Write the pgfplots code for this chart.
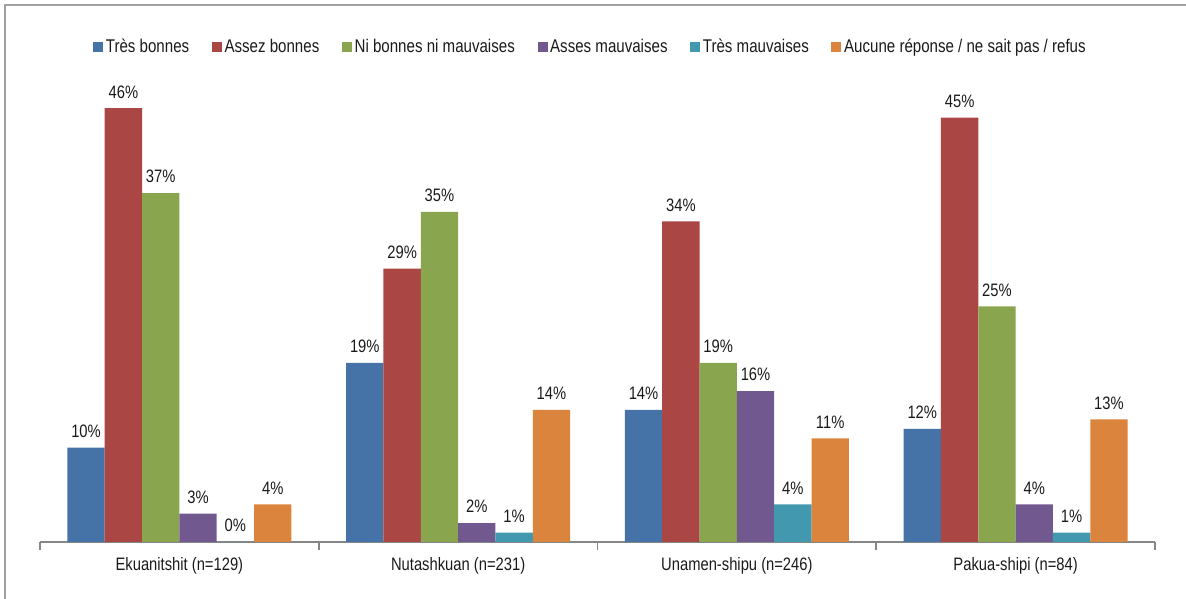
\documentclass[border=0pt]{standalone}
\usepackage{fontspec}
\setmainfont{Liberation Sans}[FakeStretch=0.82]
\usepackage{pgfplots}
\pgfplotsset{compat=1.18}
\definecolor{cA}{HTML}{4572A7}
\definecolor{cB}{HTML}{AA4643}
\definecolor{cC}{HTML}{89A54E}
\definecolor{cD}{HTML}{71588F}
\definecolor{cE}{HTML}{4198AF}
\definecolor{cF}{HTML}{DB843D}
\definecolor{frame}{HTML}{A0A0A0}
\definecolor{axisgray}{HTML}{868686}
\definecolor{ink}{HTML}{1A1A1A}

\begin{document}
\begin{tikzpicture}[font=\fontsize{13.5}{16}\selectfont]
% 1 px of the reference = 0.75pt
\path[use as bounding box] (0pt,0pt) rectangle (889.5pt,449.25pt);
\draw[frame, line width=1.3pt] (3.75pt,0pt) -- (3.75pt,445.5pt) -- (889.5pt,445.5pt);
\begin{axis}[
  at={(30pt,42.75pt)}, anchor=south west,
  scale only axis,
  width=836.25pt, height=353.6pt,
  ybar=0pt, bar width=28pt,
  xmin=-0.5, xmax=3.5,
  ymin=0, ymax=50,
  axis x line*=bottom,
  axis y line=none,
  axis line style={axisgray, line width=1.2pt},
  xtick={0,1,2,3},
  xticklabels={Ekuanitshit (n=129), Nutashkuan (n=231), Unamen-shipu (n=246), Pakua-shipi (n=84)},
  major tick length=0pt,
  minor xtick={-0.5,0.5,1.5,2.5,3.5},
  minor tick length=6pt,
  tick align=outside,
  minor tick style={axisgray, line width=1.2pt},
  xticklabel style={text=ink, yshift=-8pt},
  nodes near coords={\pgfmathprintnumber[assume math mode=true]{\pgfplotspointmeta}\%},
  every node near coord/.append style={text=ink, yshift=4pt, font=\fontsize{13.5}{16}\selectfont},
  legend columns=6,
  legend style={draw=none, at={(0.494,1.05)}, anchor=center, fill=none,
    text=ink, font=\fontsize{13.8}{16}\selectfont,
    /tikz/every even column/.append style={column sep=15pt}},
  legend image code/.code={\fill[#1] (0pt,-3.6pt) rectangle (7.5pt,3.9pt);},
  every axis plot/.append style={draw=none},
]
\addplot[fill=cA] coordinates {(0,10) (1,19) (2,14) (3,12)};
\addlegendentry{Très bonnes}
\addplot[fill=cB] coordinates {(0,46) (1,29) (2,34) (3,45)};
\addlegendentry{Assez bonnes}
\addplot[fill=cC] coordinates {(0,37) (1,35) (2,19) (3,25)};
\addlegendentry{Ni bonnes ni mauvaises}
\addplot[fill=cD] coordinates {(0,3) (1,2) (2,16) (3,4)};
\addlegendentry{Asses mauvaises}
\addplot[fill=cE] coordinates {(0,0) (1,1) (2,4) (3,1)};
\addlegendentry{Très mauvaises}
\addplot[fill=cF] coordinates {(0,4) (1,14) (2,11) (3,13)};
\addlegendentry{Aucune réponse / ne sait pas / refus}
\end{axis}
\end{tikzpicture}
\end{document}
